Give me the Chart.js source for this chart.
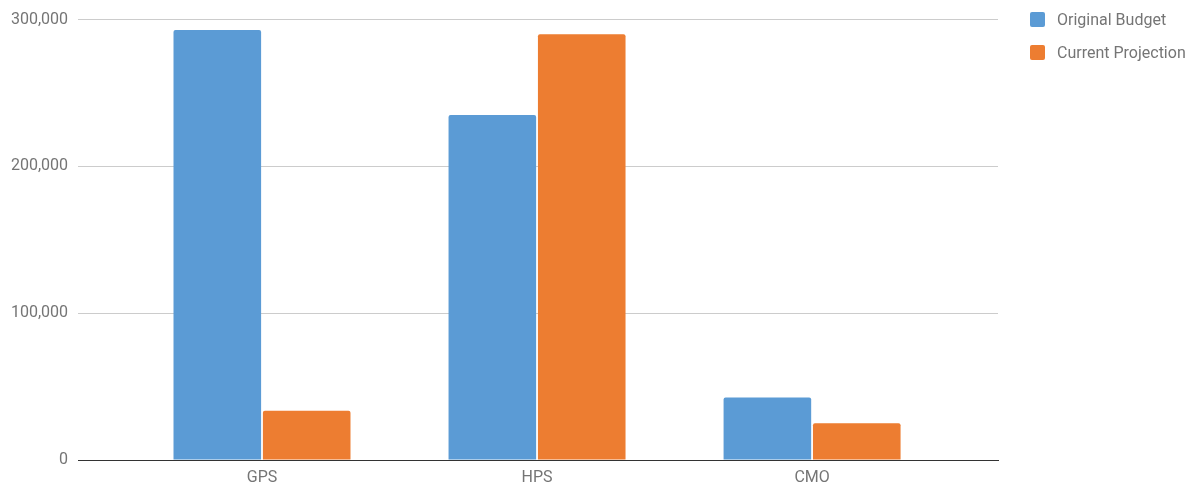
<!DOCTYPE html>
<html>
<head>
<meta charset="utf-8">
<script src="https://cdn.jsdelivr.net/npm/chart.js@4/dist/chart.umd.min.js"></script>
<style>
  html, body { margin: 0; padding: 0; background: #fff; }
  #wrap { position: relative; width: 1194px; height: 494px; }
  #legend { position: absolute; left: 1030px; top: 10px; font-family: Roboto, sans-serif; font-size: 16px; color: #757575; }
  .item { display: flex; align-items: center; height: 19px; margin-bottom: 14px; }
  .box { width: 15px; height: 15px; border-radius: 2px; margin-right: 12px; }
</style>
</head>
<body>
<div id="wrap">
  <canvas id="chart" width="1194" height="494"></canvas>
  <div id="legend"></div>
</div>
<script>
// 数据
const categories = ['GPS', 'HPS', 'CMO'];
const originalBudget = [293000, 235000, 42500];
const currentProjection = [33500, 290000, 25000];
const seriesNames = ['Original Budget', 'Current Projection'];
const seriesColors = ['#5b9bd5', '#ed7d31'];
const yTicks = [0, 100000, 200000, 300000];

const textColor = '#757575';

// 图例
document.getElementById('legend').innerHTML = seriesNames.map((n, i) => `
  <div class="item"><div class="box" style="background:${seriesColors[i]}"></div>${n}</div>
`).join('');

function toPoints(values) {
    return values.map((v, i) => ({ x: i, y: v }));
}

new Chart(document.getElementById('chart').getContext('2d'), {
    type: 'bar',
    data: {
        datasets: [originalBudget, currentProjection].map((vals, i) => ({
            label: seriesNames[i],
            data: toPoints(vals),
            backgroundColor: seriesColors[i],
            borderRadius: { topLeft: 2, topRight: 2 },
            borderSkipped: 'bottom',
            categoryPercentage: 0.65,
            barPercentage: 0.98
        }))
    },
    options: {
        responsive: false,
        animation: false,
        layout: { padding: { top: 19, right: 196, left: 0, bottom: 0 } },
        plugins: { legend: { display: false }, tooltip: { enabled: false } },
        scales: {
            x: {
                type: 'linear',
                offset: false,
                min: -0.669,
                max: 2.676,
                afterBuildTicks: s => { s.ticks = categories.map((c, i) => ({ value: i })); },
                afterFit: s => { s.height = 34; },
                grid: { display: false, drawTicks: false, offset: false },
                border: { display: true, color: '#333', width: 1 },
                ticks: {
                    callback: v => categories[v],
                    color: textColor,
                    font: { family: 'Roboto', size: 16 },
                    padding: 8,
                    maxRotation: 0
                }
            },
            y: {
                min: 0,
                max: 300000,
                afterBuildTicks: s => { s.ticks = yTicks.map(v => ({ value: v })); },
                afterFit: s => { s.width = 78; },
                grid: {
                    color: c => c.tick.value === 0 ? '#333' : '#cccccc',
                    drawTicks: false
                },
                border: { display: false },
                ticks: {
                    callback: v => v.toLocaleString('en-US'),
                    color: textColor,
                    font: { family: 'Roboto', size: 16 },
                    padding: 10
                }
            }
        }
    }
});
</script>
</body>
</html>
